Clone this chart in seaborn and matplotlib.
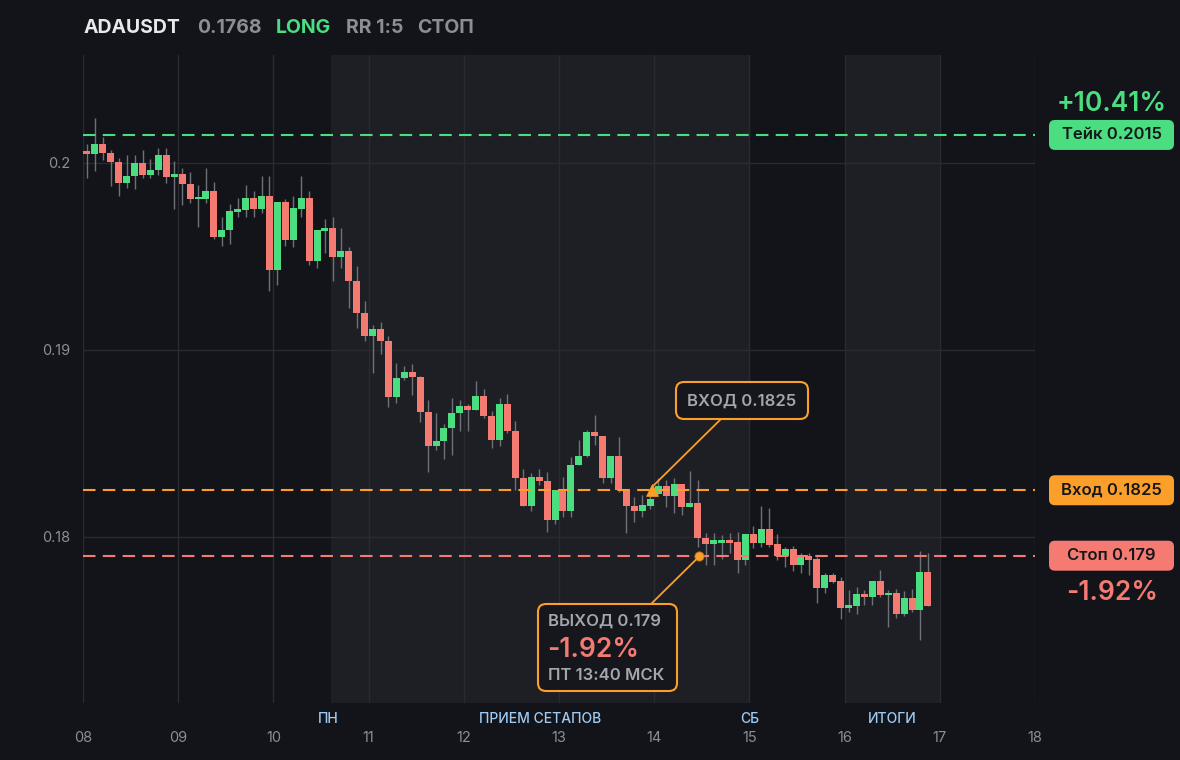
import numpy as np
import pandas as pd
import matplotlib
matplotlib.use("Agg")
import matplotlib.pyplot as plt
from matplotlib.patches import FancyBboxPatch
import seaborn as sns

# 2h candles, ADAUSDT
opens = [0.20060, 0.20050, 0.20102, 0.20052, 0.20007, 0.19895, 0.19930, 0.20000, 0.19938, 0.19963,
         0.20043, 0.19927, 0.19941, 0.19889, 0.19807, 0.19810, 0.19850, 0.19606, 0.19642, 0.19740,
         0.19750, 0.19813, 0.19754, 0.19822, 0.19428, 0.19791, 0.19588, 0.19756, 0.19813, 0.19478,
         0.19638, 0.19652, 0.19499, 0.19530, 0.19371, 0.19200, 0.19077, 0.19112, 0.19050, 0.18750,
         0.18850, 0.18882, 0.18857, 0.18670, 0.18488, 0.18513, 0.18583, 0.18663, 0.18700, 0.18680,
         0.18754, 0.18649, 0.18520, 0.18711, 0.18568, 0.18317, 0.18167, 0.18321, 0.18300, 0.18091,
         0.18251, 0.18141, 0.18385, 0.18433, 0.18563, 0.18540, 0.18317, 0.18433, 0.18251, 0.18167,
         0.18141, 0.18166, 0.18229, 0.18273, 0.18221, 0.18284, 0.18163, 0.18180, 0.17993, 0.17961,
         0.17970, 0.17984, 0.17975, 0.17877, 0.18016, 0.17970, 0.18043, 0.17963, 0.17900, 0.17934,
         0.17852, 0.17900, 0.17882, 0.17729, 0.17797, 0.17765, 0.17622, 0.17632, 0.17695, 0.17681,
         0.17765, 0.17690, 0.17700, 0.17588, 0.17672, 0.17610, 0.17811]
highs = [0.20102, 0.20239, 0.20141, 0.20070, 0.20025, 0.20043, 0.20043, 0.20070, 0.20020, 0.20079,
         0.20079, 0.20011, 0.19972, 0.19952, 0.19882, 0.19973, 0.19900, 0.19713, 0.19781, 0.19811,
         0.19882, 0.19852, 0.19930, 0.19930, 0.19791, 0.19806, 0.19824, 0.19930, 0.19852, 0.19642,
         0.19701, 0.19713, 0.19652, 0.19551, 0.19449, 0.19262, 0.19134, 0.19150, 0.19075, 0.18932,
         0.18916, 0.18927, 0.18861, 0.18733, 0.18663, 0.18604, 0.18743, 0.18733, 0.18711, 0.18834,
         0.18791, 0.18674, 0.18743, 0.18765, 0.18620, 0.18364, 0.18342, 0.18364, 0.18349, 0.18251,
         0.18323, 0.18430, 0.18519, 0.18572, 0.18652, 0.18540, 0.18433, 0.18533, 0.18251, 0.18212,
         0.18223, 0.18234, 0.18316, 0.18305, 0.18316, 0.18284, 0.18355, 0.18305, 0.18020, 0.18020,
         0.18010, 0.18020, 0.18029, 0.18016, 0.18060, 0.18166, 0.18155, 0.18016, 0.17948, 0.17953,
         0.17916, 0.17916, 0.17895, 0.17806, 0.17806, 0.17784, 0.17717, 0.17731, 0.17717, 0.17765,
         0.17824, 0.17717, 0.17722, 0.17711, 0.17722, 0.17925, 0.17914]
lows = [0.19918, 0.19959, 0.20016, 0.19877, 0.19825, 0.19868, 0.19859, 0.19920, 0.19920, 0.19936,
        0.19895, 0.19754, 0.19775, 0.19788, 0.19660, 0.19786, 0.19592, 0.19558, 0.19567, 0.19710,
        0.19711, 0.19713, 0.19733, 0.19317, 0.19348, 0.19558, 0.19549, 0.19713, 0.19455, 0.19437,
        0.19520, 0.19371, 0.19440, 0.19226, 0.19119, 0.19050, 0.18879, 0.18980, 0.18697, 0.18718,
        0.18840, 0.18761, 0.18617, 0.18349, 0.18465, 0.18419, 0.18440, 0.18568, 0.18568, 0.18680,
        0.18638, 0.18478, 0.18488, 0.18558, 0.18251, 0.18167, 0.18139, 0.18278, 0.18029, 0.18070,
        0.18109, 0.18109, 0.18383, 0.18430, 0.18492, 0.18287, 0.18287, 0.18243, 0.18020, 0.18081,
        0.18109, 0.18150, 0.18229, 0.18163, 0.18127, 0.18118, 0.18163, 0.17948, 0.17850, 0.17850,
        0.17880, 0.17914, 0.17809, 0.17850, 0.17940, 0.17948, 0.17948, 0.17877, 0.17841, 0.17820,
        0.17809, 0.17797, 0.17649, 0.17702, 0.17752, 0.17561, 0.17601, 0.17588, 0.17636, 0.17636,
        0.17681, 0.17520, 0.17568, 0.17578, 0.17601, 0.17449, 0.17631]
closes = [0.20050, 0.20102, 0.20052, 0.20007, 0.19895, 0.19930, 0.20000, 0.19938, 0.19963, 0.20043,
          0.19927, 0.19941, 0.19889, 0.19807, 0.19818, 0.19850, 0.19606, 0.19642, 0.19743, 0.19750,
          0.19813, 0.19754, 0.19822, 0.19428, 0.19791, 0.19588, 0.19761, 0.19813, 0.19478, 0.19642,
          0.19652, 0.19499, 0.19530, 0.19371, 0.19200, 0.19077, 0.19112, 0.19050, 0.18750, 0.18850,
          0.18882, 0.18857, 0.18670, 0.18488, 0.18513, 0.18583, 0.18663, 0.18700, 0.18680, 0.18754,
          0.18649, 0.18520, 0.18711, 0.18568, 0.18317, 0.18167, 0.18321, 0.18300, 0.18091, 0.18251,
          0.18141, 0.18385, 0.18433, 0.18563, 0.18540, 0.18317, 0.18433, 0.18251, 0.18167, 0.18141,
          0.18171, 0.18203, 0.18273, 0.18221, 0.18284, 0.18163, 0.18180, 0.17993, 0.17961, 0.17984,
          0.17984, 0.17970, 0.17877, 0.18016, 0.17970, 0.18043, 0.17957, 0.17900, 0.17934, 0.17852,
          0.17904, 0.17879, 0.17729, 0.17797, 0.17761, 0.17622, 0.17636, 0.17695, 0.17681, 0.17765,
          0.17690, 0.17700, 0.17588, 0.17672, 0.17610, 0.17811, 0.17631]

start_day = 8
candle_hours = 2

day_ticks = list(range(8, 19))
day_labels = [f"{d:02d}" for d in day_ticks]
price_ticks = [0.18, 0.19, 0.2]
price_labels = ["0.18", "0.19", "0.2"]

shade_spans = [(10.6, 15.0), (16.0, 17.0)]
session_names = ["ПН", "ПРИЕМ СЕТАПОВ", "СБ", "ИТОГИ"]
session_x = [10.58, 12.8, 15.0, 16.5]

take_price = 0.2015
entry_price = 0.1825
stop_price = 0.179
entry_time = 13.975
exit_time = 14.47
take_pct = "+10.41%"
stop_pct = "-1.92%"
exit_stamp = "ПТ 13:40 МСК"

header = [("ADAUSDT", "#e9e9ec"), ("0.1768", "#8b8e96"), ("LONG", "#4ade80"),
          ("RR 1:5", "#8b8e96"), ("СТОП", "#8b8e96")]

# colours
BG = "#131419"
SHADE = "#1e1f24"
GRID = "#2a2b30"
GREEN = "#4ade80"
RED = "#f47a72"
ORANGE = "#fb9f2a"
WICK = "#6e7178"
GRAY = "#8b8e96"
BLUE = "#9ecbf5"
DARK_TXT = "#15161a"

sns.set_theme(style="dark", rc={
    "figure.facecolor": BG,
    "axes.facecolor": BG,
    "axes.edgecolor": BG,
    "grid.color": GRID,
})
plt.rcParams["font.family"] = ["Inter", "DejaVu Sans"]

W, H = 1180, 760
fig = plt.figure(figsize=(W / 100, H / 100), dpi=100)
ax = fig.add_axes([83 / W, 57 / H, 952 / W, 648 / H])

df = pd.DataFrame({"open": opens, "high": highs, "low": lows, "close": closes})
df["t"] = start_day + (np.arange(len(df)) * candle_hours + candle_hours / 2) / 24
df["up"] = df["close"] >= df["open"]
df["bottom"] = df[["open", "close"]].min(axis=1)
df["height"] = (df["close"] - df["open"]).abs().clip(lower=0.00012)

for a, b in shade_spans:
    ax.axvspan(a, b, color=SHADE, zorder=0, lw=0)

ax.vlines(df["t"], df["low"], df["high"], color=WICK, lw=1, zorder=2)
ax.bar(df["t"], df["height"], bottom=df["bottom"], width=0.88 * candle_hours / 24,
       color=np.where(df["up"], GREEN, RED), lw=0, zorder=3)

dash = (0, (6, 3.5))
ax.axhline(take_price, color=GREEN, lw=1.5, ls=dash, zorder=4)
ax.axhline(entry_price, color=ORANGE, lw=1.5, ls=dash, zorder=4)
ax.axhline(stop_price, color=RED, lw=1.5, ls=dash, zorder=4)

sns.scatterplot(x=[entry_time], y=[entry_price], marker="^", s=70, color=ORANGE,
                edgecolor=ORANGE, ax=ax, zorder=6)
sns.scatterplot(x=[exit_time], y=[stop_price], marker="o", s=45, color=ORANGE,
                edgecolor="#a86a1c", linewidth=0.6, ax=ax, zorder=6)

ax.set_xlim(8, 18)
ax.set_ylim(0.171123, 0.205775)
ax.set_xticks(day_ticks, day_labels)
ax.set_yticks(price_ticks, price_labels)
ax.grid(True, color=GRID, lw=1)
ax.set_axisbelow(True)
ax.tick_params(axis="both", length=0, colors=GRAY, labelsize=10.5)
ax.tick_params(axis="x", pad=20)
ax.tick_params(axis="y", pad=9)
for s in ax.spines.values():
    s.set_visible(False)

for name, x in zip(session_names, session_x):
    ax.annotate(name, xy=(x, 0), xycoords=("data", "axes fraction"), xytext=(0, -11.5),
                textcoords="offset points", ha="center", va="center", color=BLUE,
                fontsize=10, fontweight="medium")

# overlay in figure pixels for the labels and boxes
ov = fig.add_axes([0, 0, 1, 1], zorder=10)
ov.set_xlim(0, W)
ov.set_ylim(H, 0)
ov.axis("off")
ov.patch.set_alpha(0)


def to_px(x, y):
    dx, dy = ax.transData.transform((x, y))
    return dx, H - dy


def rbox(x0, y0, w, h, fc, ec="none", lw=0, r=7):
    ov.add_patch(FancyBboxPatch((x0 + r, y0 + r), w - 2 * r, h - 2 * r,
                                boxstyle=f"round,pad={r}", fc=fc, ec=ec, lw=lw))


# header
hx = [84, 197, 276, 346, 417]
for (txt, col), x in zip(header, hx):
    ov.text(x, 28, txt, color=col, fontsize=14, fontweight="bold", va="center", ha="left")

# right side price tags
for price, col, label in [(take_price, GREEN, f"Тейк {take_price}"),
                          (entry_price, ORANGE, f"Вход {entry_price}"),
                          (stop_price, RED, f"Стоп {stop_price}")]:
    _, py = to_px(8, price)
    rbox(1049, py - 15, 125, 30, col, r=6)
    ov.text(1111.5, py, label, color=DARK_TXT, fontsize=12, fontweight="semibold",
            ha="center", va="center")

_, py_take = to_px(8, take_price)
_, py_stop = to_px(8, stop_price)
ov.text(1112, py_take - 31, take_pct, color=GREEN, fontsize=19, fontweight="semibold",
        ha="center", va="center")
ov.text(1112, py_stop + 37, stop_pct, color=RED, fontsize=19, fontweight="semibold",
        ha="center", va="center")

# entry callout
ex, ey = to_px(entry_time, entry_price)
ov.plot([ex + 2, 721], [ey - 5, 419], color=ORANGE, lw=1.3, zorder=1)
rbox(676, 382, 132, 37, "#16171c", ec=ORANGE, lw=1.5, r=8)
ov.text(742, 401, f"ВХОД {entry_price}", color="#a3a6ad", fontsize=12,
        fontweight="semibold", ha="center", va="center")

# exit callout
xx, xy = to_px(exit_time, stop_price)
ov.plot([xx - 3, 651], [xy + 4, 604], color=ORANGE, lw=1.3, zorder=1)
rbox(538, 604, 139, 87, "#16171c", ec=ORANGE, lw=1.5, r=8)
ov.text(548, 621, f"ВЫХОД {stop_price}", color="#a3a6ad", fontsize=12,
        fontweight="semibold", ha="left", va="center")
ov.text(547, 650, stop_pct, color=RED, fontsize=19, fontweight="semibold",
        ha="left", va="center")
ov.text(548, 676, exit_stamp, color="#a3a6ad", fontsize=12,
        fontweight="semibold", ha="left", va="center")

fig.savefig("out.png", dpi=100, facecolor=BG)
